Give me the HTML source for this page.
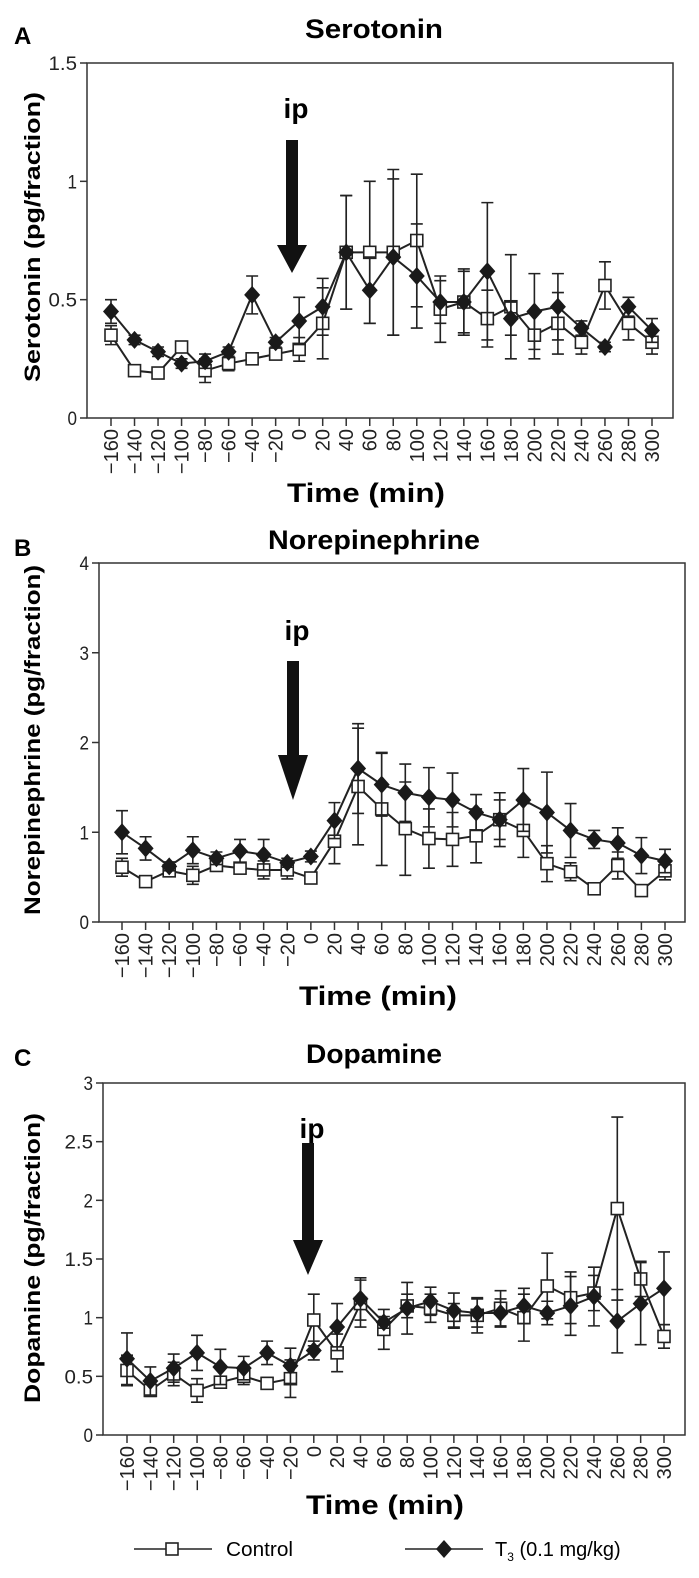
<!DOCTYPE html>
<html><head><meta charset="utf-8"><style>
body{margin:0;background:#fff;}
svg{display:block;font-family:"Liberation Sans",sans-serif;}
</style></head><body>
<svg id="fig" width="699" height="1578" viewBox="0 0 699 1578" xmlns="http://www.w3.org/2000/svg"></svg>
<script>
const times = [-160,-140,-120,-100,-80,-60,-40,-20,0,20,40,60,80,100,120,140,160,180,200,220,240,260,280,300];
const serCtrl = [0.35,0.20,0.19,0.30,0.20,0.23,0.25,0.27,0.29,0.40,0.70,0.70,0.70,0.75,0.46,0.49,0.42,0.47,0.35,0.40,0.32,0.56,0.40,0.32];
const serCtrlErr = [0.04,0.02,0.02,0.02,0.05,0.03,0.02,0.02,0.05,0.15,0.24,0.30,0.35,0.28,0.14,0.14,0.12,0.22,0.10,0.13,0.05,0.10,0.07,0.05];
const serT3 = [0.45,0.33,0.28,0.23,0.24,0.28,0.52,0.32,0.41,0.47,0.70,0.54,0.68,0.60,0.49,0.49,0.62,0.42,0.45,0.47,0.38,0.30,0.47,0.37];
const serT3Err = [0.05,0.02,0.02,0.02,0.03,0.02,0.08,0.02,0.10,0.12,0.24,0.14,0.33,0.22,0.09,0.13,0.29,0.07,0.16,0.14,0.03,0.02,0.04,0.05];
const neCtrl = [0.61,0.45,0.57,0.52,0.63,0.60,0.58,0.58,0.49,0.90,1.51,1.26,1.04,0.93,0.92,0.96,1.14,1.02,0.65,0.56,0.37,0.63,0.35,0.57];
const neCtrlErr = [0.1,0.05,0.05,0.1,0.05,0.05,0.1,0.1,0.05,0.25,0.65,0.63,0.52,0.33,0.3,0.3,0.3,0.3,0.2,0.1,0.05,0.15,0.05,0.1];
const neT3 = [1.00,0.82,0.62,0.80,0.71,0.79,0.75,0.66,0.73,1.13,1.71,1.53,1.44,1.39,1.36,1.22,1.14,1.36,1.22,1.02,0.92,0.88,0.74,0.68];
const neT3Err = [0.24,0.13,0.05,0.15,0.07,0.13,0.17,0.05,0.06,0.2,0.5,0.35,0.32,0.33,0.3,0.2,0.22,0.35,0.45,0.3,0.1,0.17,0.2,0.13];
const daCtrl = [0.55,0.38,0.52,0.38,0.45,0.50,0.44,0.48,0.98,0.70,1.12,0.90,1.10,1.08,1.02,1.02,1.08,1.00,1.27,1.17,1.21,1.93,1.33,0.84];
const daCtrlErr = [0.13,0.05,0.1,0.1,0.05,0.07,0.05,0.16,0.22,0.16,0.2,0.17,0.1,0.12,0.1,0.15,0.15,0.2,0.28,0.22,0.15,0.78,0.15,0.1];
const daT3 = [0.65,0.46,0.57,0.70,0.58,0.57,0.70,0.59,0.72,0.92,1.16,0.96,1.08,1.14,1.06,1.04,1.04,1.10,1.04,1.10,1.18,0.97,1.12,1.25];
const daT3Err = [0.22,0.12,0.12,0.15,0.15,0.1,0.1,0.15,0.08,0.2,0.18,0.05,0.22,0.12,0.15,0.12,0.12,0.15,0.1,0.25,0.25,0.27,0.35,0.31];
const serTicks = ["0","0.5","1","1.5"];
const neTicks = ["0","1","2","3","4"];
const daTicks = ["0","0.5","1","1.5","2","2.5","3"];

const NS="http://www.w3.org/2000/svg";
const svg=document.getElementById('fig');
function mk(tag,attrs,parent){const e=document.createElementNS(NS,tag);for(const k in attrs)e.setAttribute(k,attrs[k]);(parent||svg).appendChild(e);return e;}
function txt(s,attrs,parent){const e=mk('text',attrs,parent);e.textContent=s;return e;}

function panel(cfg){
  const g=mk('g',{});
  
  
  const L=cfg.left,R=cfg.right,T=cfg.top,B=cfg.bottom,t0=cfg.t0,t1=cfg.t1,ymax=cfg.ymax;
  const xs=t=>t0+(t-times[0])/(times[times.length-1]-times[0])*(t1-t0);
  const ys=v=>B-v/ymax*(B-T);
  const lt=txt(cfg.letter,{x:14,y:cfg.letterY,'font-size':24,'font-weight':'bold'},g);
  
  
  const tt=txt(cfg.title,{x:cfg.titleX,y:cfg.titleY,'font-size':27,'font-weight':'bold','text-anchor':'middle',textLength:cfg.titleLen,lengthAdjust:'spacingAndGlyphs'},g);
  
  
  const box=mk('rect',{x:L,y:T,width:R-L,height:B-T,fill:'none',stroke:'#333','stroke-width':1.5},g);
  
  
  cfg.ticks.forEach(lab=>{const v=parseFloat(lab);const y=ys(v);
    mk('line',{x1:L-7,x2:L,y1:y,y2:y,stroke:'#333','stroke-width':1.5},g);
    const tl=txt(lab,{x:L-10,y:y+7,'font-size':19,'text-anchor':'end',fill:'#222',textLength:lab.length*9.5,lengthAdjust:'spacingAndGlyphs'},g);
    
    
  });
  times.forEach(t=>{const x=xs(t);
    mk('line',{x1:x,x2:x,y1:B,y2:B+8,stroke:'#333','stroke-width':1.5},g);
    const lab=t<0?'\u2212'+(-t):String(t);
    const tl=txt(lab,{x:0,y:0,'font-size':20,'text-anchor':'end',fill:'#222',transform:`translate(${x+7},${B+11}) rotate(-90)`},g);
    
    
  });
  const xl=txt('Time (min)',{x:cfg.xlabX,y:cfg.xlabY,'font-size':27,'font-weight':'bold','text-anchor':'middle',textLength:158,lengthAdjust:'spacingAndGlyphs'},g);
  
  
  const yl=txt(cfg.ylab,{x:0,y:0,'font-size':22,'font-weight':'bold','text-anchor':'middle',textLength:cfg.ylabLen,lengthAdjust:'spacingAndGlyphs',transform:`translate(40,${cfg.ylabY}) rotate(-90)`},g);
  
  
  const ax=cfg.arX;
  const ip=txt('ip',{x:ax+4,y:cfg.ipY,'font-size':28,'font-weight':'bold','text-anchor':'middle'},g);
  
  
  const ar=mk('path',{d:`M${ax-6},${cfg.arTop} L${ax+6},${cfg.arTop} L${ax+6},${cfg.arHead} L${ax+15},${cfg.arHead} L${ax},${cfg.arBot} L${ax-15},${cfg.arHead} L${ax-6},${cfg.arHead} Z`,fill:'#111'},g);
  
  
  function series(vals,errs,kind){
    const sg=mk('g',{},g);
    
    
    vals.forEach((v,i)=>{const x=xs(times[i]);
      const e=mk('path',{d:`M${x},${ys(v-errs[i])} L${x},${ys(v+errs[i])} M${x-6},${ys(v+errs[i])} L${x+6},${ys(v+errs[i])} M${x-6},${ys(v-errs[i])} L${x+6},${ys(v-errs[i])}`,stroke:'#222','stroke-width':1.6,fill:'none'},sg);
      
      
    });
    const pts=vals.map((v,i)=>xs(times[i])+','+ys(v)).join(' ');
    const pl=mk('polyline',{points:pts,fill:'none',stroke:'#222','stroke-width':2},sg);
    
    
    vals.forEach((v,i)=>{const x=xs(times[i]),y=ys(v);let m;
      if(kind==='control'){m=mk('rect',{x:x-6,y:y-6,width:12,height:12,fill:'#fff',stroke:'#222','stroke-width':1.6},sg);}
      else{m=mk('path',{d:`M${x},${y-9} L${x+8},${y} L${x},${y+9} L${x-8},${y} Z`,fill:'#1a1a1a'},sg);}
      
      
    });
  }
  series(cfg.ctrl,cfg.ctrlErr,'control');
  series(cfg.t3,cfg.t3Err,'t3');
}
panel({id:'serotonin',letter:'A',letterY:44,title:'Serotonin',titleX:374,titleLen:138,titleY:38,left:87,right:673,top:63,bottom:418,t0:111,t1:652,ymax:1.5,ticks:serTicks,ylab:'Serotonin (pg/fraction)',ylabY:237,ylabLen:290,xlabX:366,xlabY:502,arX:292,ipY:118,arTop:140,arHead:245,arBot:273,ctrl:serCtrl,ctrlErr:serCtrlErr,t3:serT3,t3Err:serT3Err});
panel({id:'norepinephrine',letter:'B',letterY:556,title:'Norepinephrine',titleX:374,titleLen:212,titleY:549,left:99,right:685,top:563,bottom:922,t0:122,t1:665,ymax:4,ticks:neTicks,ylab:'Norepinephrine (pg/fraction)',ylabY:740,ylabLen:350,xlabX:378,xlabY:1005,arX:293,ipY:640,arTop:661,arHead:755,arBot:800,ctrl:neCtrl,ctrlErr:neCtrlErr,t3:neT3,t3Err:neT3Err});
panel({id:'dopamine',letter:'C',letterY:1066,title:'Dopamine',titleX:374,titleLen:136,titleY:1063,left:103,right:685,top:1083,bottom:1435,t0:127,t1:664,ymax:3,ticks:daTicks,ylab:'Dopamine (pg/fraction)',ylabY:1258,ylabLen:290,xlabX:385,xlabY:1514,arX:308,ipY:1138,arTop:1143,arHead:1240,arBot:1275,ctrl:daCtrl,ctrlErr:daCtrlErr,t3:daT3,t3Err:daT3Err});

const lg=mk('g',{});


const le1=mk('g',{},lg);


mk('line',{x1:134,x2:212,y1:1549,y2:1549,stroke:'#222','stroke-width':1.6},le1);
mk('rect',{x:166,y:1543,width:12,height:12,fill:'#fff',stroke:'#222','stroke-width':1.6},le1);
txt('Control',{x:226,y:1556,'font-size':20,textLength:67,lengthAdjust:'spacingAndGlyphs'},le1);
const le2=mk('g',{},lg);


mk('line',{x1:405,x2:483,y1:1549,y2:1549,stroke:'#222','stroke-width':1.6},le2);
mk('path',{d:'M444,1540 L452,1549 L444,1558 L436,1549 Z',fill:'#1a1a1a'},le2);
const t3t=txt('T',{x:495,y:1556,'font-size':20},le2);
const sub=mk('tspan',{'font-size':12,dy:5},t3t);sub.textContent='3';
const rest=mk('tspan',{dy:-5},t3t);rest.textContent=' (0.1 mg/kg)';
</script>
</body></html>
